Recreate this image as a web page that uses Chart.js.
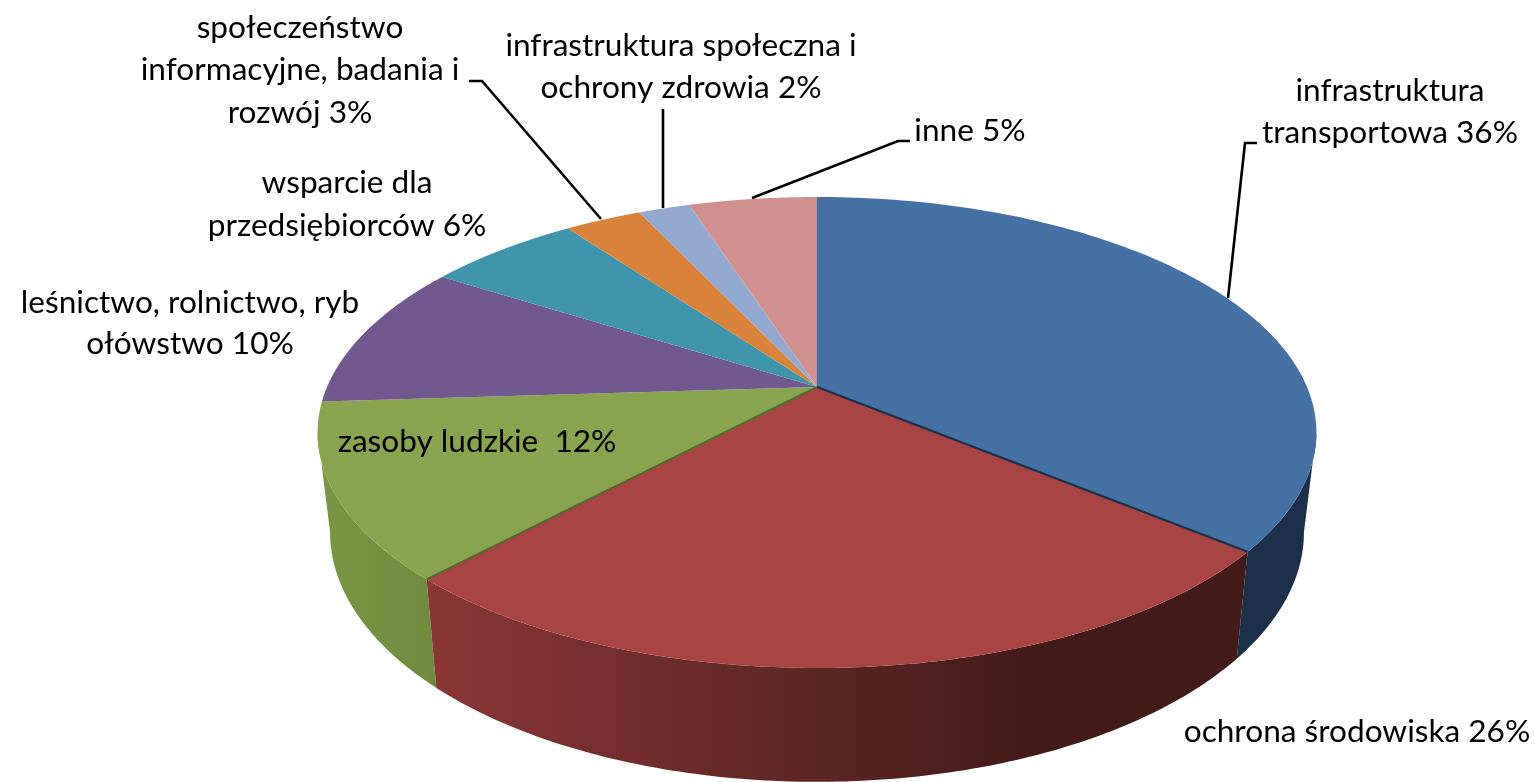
<!DOCTYPE html>
<html><head><meta charset="utf-8">
<style>html,body{margin:0;padding:0;background:#fff;overflow:hidden}canvas{display:block}</style>
<script src="https://cdn.jsdelivr.net/npm/chart.js@4"></script>
</head><body><canvas id="c" width="1535" height="782"></canvas>
<script>
const categories = ["infrastruktura transportowa","ochrona środowiska","zasoby ludzkie","leśnictwo, rolnictwo, rybołówstwo","wsparcie dla przedsiębiorców","społeczeństwo informacyjne, badania i rozwój","infrastruktura społeczna i ochrony zdrowia","inne"];
const values = [36,26,12,10,6,3,2,5];
const topColors = ["#4571A5","#A84443","#89A44F","#71588F","#4095AD","#D8823C","#93A9CF","#D09090"];

// perspective of the pie plate
const P = {cx:817, cy:387, a:490, b:226.7, k:0.1932, s:0.975, dy:97, sy:1.06};
function rim(theta){ const u=Math.sin(theta), v=-Math.cos(theta), w=1-P.k*v; return {x:P.cx+P.a*u/w, y:P.cy+P.b*v/w}; }
function base(theta){ const u=Math.sin(theta), v=-Math.cos(theta), w=1-P.k*v; return {x:P.cx+P.s*P.a*u/w, y:P.cy+P.dy+P.sy*P.b*v/w}; }
const tangentR = Math.PI-Math.acos(P.k), tangentL = Math.PI+Math.acos(P.k);

// label layout: [text, anchor x, baseline y, align]
const labelLines = [
 ["infrastruktura",1390,101,"center"],["transportowa 36%",1390,143,"center"],
 ["ochrona środowiska 26%",1357,742,"center"],
 ["zasoby ludzkie  12%",477,452,"center"],
 ["leśnictwo, rolnictwo, ryb",190,313,"center"],["ołówstwo 10%",190,354,"center"],
 ["wsparcie dla",347,193,"center"],["przedsiębiorców 6%",347,236,"center"],
 ["społeczeństwo",300,38,"center"],["informacyjne, badania i",300,80,"center"],["rozwój 3%",300,123,"center"],
 ["infrastruktura społeczna i",681,56,"center"],["ochrony zdrowia 2%",681,98,"center"],
 ["inne 5%",970,141,"center"]
];
const leaders = [
 [[1228,298],[1245,143],[1257,143]],
 [[469,81],[482,81],[601,219]],
 [[663,109],[663,208]],
 [[752,198],[898,141],[910,141]]
];

const pie3d = {
 id:"pie3d",
 beforeDatasetsDraw(chart){
  const ctx = chart.ctx, arcs = chart.getDatasetMeta(0).data;
  const th = i => [arcs[i].startAngle+Math.PI/2, arcs[i].endAngle+Math.PI/2];
  const steps = 120;
  const wall = (t0,t1,fill) => {
   ctx.beginPath();
   for(let j=0;j<=steps;j++){const t=t0+(t1-t0)*j/steps,p=rim(t); j?ctx.lineTo(p.x,p.y):ctx.moveTo(p.x,p.y);}
   for(let j=steps;j>=0;j--){const t=t0+(t1-t0)*j/steps,p=base(t); ctx.lineTo(p.x,p.y);}
   ctx.closePath(); ctx.fillStyle=fill; ctx.fill();
  };
  // side walls
  const [b0,b1]=th(0),[r0,r1]=th(1),[g0,g1]=th(2);
  wall(tangentR,b1,"#1C3049");
  const gg=ctx.createLinearGradient(318,0,440,0); gg.addColorStop(0,"#7A9745"); gg.addColorStop(1,"#6F8A3E");
  wall(g0,tangentL,gg);
  const rg=ctx.createLinearGradient(430,0,1240,0);
  [[0,"#8A3735"],[0.11,"#7F3332"],[0.24,"#722E2D"],[0.46,"#5E2625"],[0.64,"#4C1F1E"],[0.75,"#421A18"],[1,"#431C19"]].forEach(s=>rg.addColorStop(s[0],s[1]));
  wall(r0,r1,rg);
  // top faces
  arcs.forEach((arc,i)=>{
   const [t0,t1]=th(i);
   ctx.beginPath(); ctx.moveTo(P.cx,P.cy);
   for(let j=0;j<=steps;j++){const p=rim(t0+(t1-t0)*j/steps); ctx.lineTo(p.x,p.y);}
   ctx.closePath(); ctx.fillStyle=arc.options.backgroundColor; ctx.fill();
  });
  // thin visible edges between the front slices
  const edge=(t,col)=>{const p=rim(t);ctx.beginPath();ctx.moveTo(P.cx,P.cy);ctx.lineTo(p.x,p.y);ctx.strokeStyle=col;ctx.lineWidth=2;ctx.stroke();};
  edge(b1,"#1C3049"); edge(g0,"#56692F");
  // leader lines
  ctx.strokeStyle="#000"; ctx.lineWidth=2.6; ctx.lineJoin="miter";
  leaders.forEach(l=>{ctx.beginPath();l.forEach((p,i)=>i?ctx.lineTo(p[0],p[1]):ctx.moveTo(p[0],p[1]));ctx.stroke();});
  // labels
  ctx.fillStyle="#000"; ctx.font='31.6px Lato, sans-serif'; ctx.textBaseline="alphabetic";
  labelLines.forEach(t=>{ctx.textAlign=t[3];ctx.fillText(t[0],t[1],t[2]);});
  return false;
 }
};

new Chart(document.getElementById("c"),{
 type:"pie",
 data:{labels:categories,datasets:[{data:values,backgroundColor:topColors,borderWidth:0}]},
 options:{responsive:false,animation:false,events:[],
  plugins:{legend:{display:false},tooltip:{enabled:false},title:{display:false}}},
 plugins:[pie3d]
});
</script></body></html>
